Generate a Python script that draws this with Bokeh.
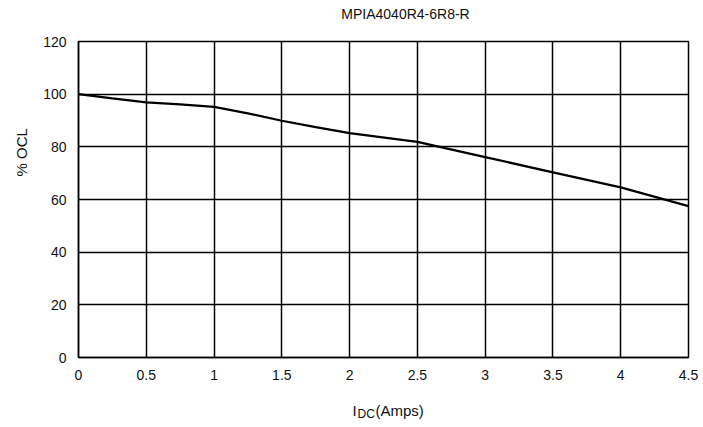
import math
from bokeh.plotting import figure
from bokeh.models import FixedTicker, Label, Title
from bokeh.layouts import column
from bokeh.embed import file_html
from bokeh.resources import INLINE

# ---- data ----
current_amps = [0, 0.25, 0.5, 0.75, 1.0, 1.25, 1.5, 1.75, 2.0, 2.5, 3.0, 3.5, 4.0, 4.5]
ocl_percent = [100, 98.4, 96.9, 96.1, 95.2, 92.7, 89.9, 87.5, 85.2, 81.9, 76.1, 70.3, 64.6, 57.5]

x_ticks = [0, 0.5, 1, 1.5, 2, 2.5, 3, 3.5, 4, 4.5]
x_tick_labels = ["0", "0.5", "1", "1.5", "2", "2.5", "3", "3.5", "4", "4.5"]
y_ticks = [0, 20, 40, 60, 80, 100, 120]
y_tick_labels = ["0", "20", "40", "60", "80", "100", "120"]

title_text = "MPIA4040R4-6R8-R"
y_label_text = "% OCL"
x_label_main = "I"
x_label_sub = "DC"
x_label_rest = "(Amps)"

FONT = "Liberation Sans"
TXT = "#111111"
W = 698
H_TOP = 26
H_MAIN = 364
H_XLAB = 35


def strip(height):
    f = figure(width=W, height=height, x_range=(0, 4.5), y_range=(0, 1),
               output_backend="svg", toolbar_location=None,
               x_axis_type=None, y_axis_type=None,
               min_border_left=78, min_border_right=10,
               min_border_top=0, min_border_bottom=0)
    f.outline_line_color = None
    f.background_fill_color = "white"
    f.border_fill_color = "white"
    return f


def lab(fig, x, y, text, size, align="left"):
    fig.add_layout(Label(x=x, y=y, x_units="screen", y_units="screen",
                         text=text, text_font=FONT, text_font_size=size,
                         text_align=align, text_baseline="middle",
                         text_color=TXT))


# strip above the chart for the title
p0 = strip(H_TOP)
lab(p0, 327, 13, title_text, "14px", align="center")

p = figure(width=W, height=H_MAIN, x_range=(0, 4.5), y_range=(0, 120),
           output_backend="svg", toolbar_location=None,
           min_border_left=78, min_border_right=10,
           min_border_top=15, min_border_bottom=33)

p.add_layout(Title(text=y_label_text, text_font=FONT, text_font_size="15px",
                   text_font_style="normal", text_color=TXT,
                   align="left", offset=181, standoff=21), "left")

p.outline_line_color = "black"
p.outline_line_width = 1.5
p.background_fill_color = "white"
p.border_fill_color = "white"

p.xaxis.ticker = FixedTicker(ticks=x_ticks)
p.yaxis.ticker = FixedTicker(ticks=y_ticks)
p.xaxis.major_label_overrides = {t: l for t, l in zip(x_ticks, x_tick_labels)}
p.yaxis.major_label_overrides = {t: l for t, l in zip(y_ticks, y_tick_labels)}

for ax in (p.xaxis, p.yaxis):
    ax.axis_line_color = "black"
    ax.axis_line_width = 1.5
    ax.major_tick_in = 0
    ax.major_tick_out = 0
    ax.minor_tick_line_color = None
    ax.major_label_text_font = FONT
    ax.major_label_text_font_size = "14px"
    ax.major_label_text_color = TXT
p.yaxis.major_label_standoff = 12
p.xaxis.major_label_standoff = 12

p.grid.grid_line_color = "black"
p.grid.grid_line_width = 1.5
p.grid.grid_line_alpha = 1.0

p.line(current_amps, ocl_percent, line_color="black", line_width=2.2)

# strip below the chart for the x-axis label with its subscript
p2 = strip(H_XLAB)
lab(p2, 274, 15, x_label_main, "15px")
lab(p2, 279, 12, x_label_sub, "12px")
lab(p2, 297, 15, x_label_rest, "15px")

layout = column(p0, p, p2, spacing=0)
open("out.html", "w").write(file_html(layout, INLINE))
